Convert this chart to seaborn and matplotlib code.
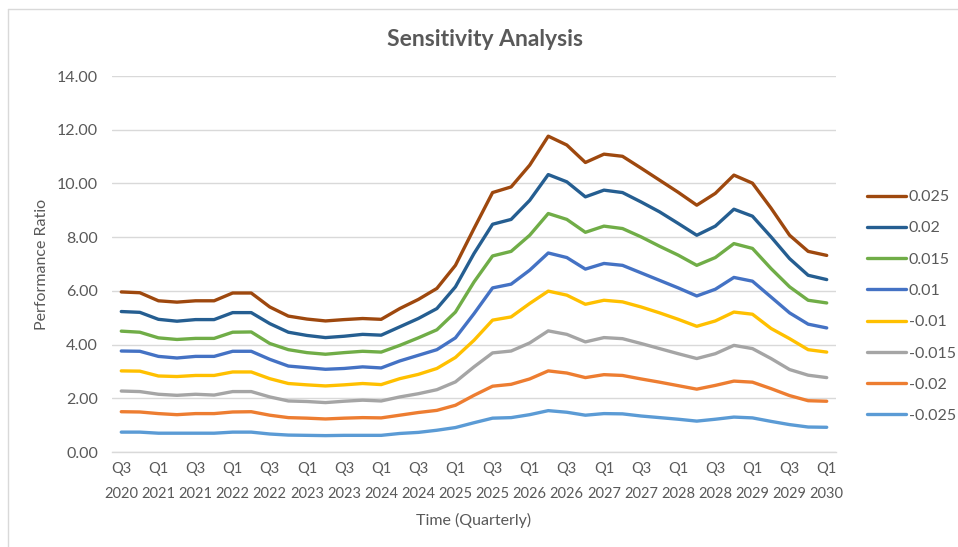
import matplotlib
matplotlib.use("Agg")
import matplotlib.pyplot as plt
from matplotlib.lines import Line2D
import pandas as pd
import seaborn as sns

quarters = [
    "Q3 2020", "Q4 2020", "Q1 2021", "Q2 2021", "Q3 2021", "Q4 2021",
    "Q1 2022", "Q2 2022", "Q3 2022", "Q4 2022", "Q1 2023", "Q2 2023",
    "Q3 2023", "Q4 2023", "Q1 2024", "Q2 2024", "Q3 2024", "Q4 2024",
    "Q1 2025", "Q2 2025", "Q3 2025", "Q4 2025", "Q1 2026", "Q2 2026",
    "Q3 2026", "Q4 2026", "Q1 2027", "Q2 2027", "Q3 2027", "Q4 2027",
    "Q1 2028", "Q2 2028", "Q3 2028", "Q4 2028", "Q1 2029", "Q2 2029",
    "Q3 2029", "Q4 2029", "Q1 2030",
]

s_p025 = [5.96, 5.93, 5.63, 5.58, 5.63, 5.63, 5.92, 5.92, 5.40, 5.06, 4.95, 4.88,
          4.93, 4.97, 4.94, 5.34, 5.68, 6.09, 6.95, 8.32, 9.66, 9.87, 10.68, 11.76,
          11.43, 10.78, 11.09, 11.01, 10.57, 10.12, 9.67, 9.19, 9.63, 10.31, 10.01,
          9.08, 8.07, 7.47, 7.32]
s_p020 = [5.23, 5.20, 4.94, 4.87, 4.93, 4.93, 5.19, 5.19, 4.78, 4.46, 4.34, 4.26,
          4.31, 4.38, 4.35, 4.66, 4.97, 5.34, 6.15, 7.39, 8.48, 8.66, 9.37, 10.33,
          10.06, 9.50, 9.75, 9.66, 9.31, 8.94, 8.51, 8.07, 8.41, 9.04, 8.78,
          8.01, 7.20, 6.58, 6.42]
s_p015 = [4.50, 4.46, 4.25, 4.19, 4.23, 4.23, 4.46, 4.47, 4.04, 3.81, 3.70, 3.64,
          3.70, 3.75, 3.72, 3.97, 4.25, 4.55, 5.21, 6.33, 7.30, 7.47, 8.07, 8.88,
          8.66, 8.18, 8.41, 8.32, 8.01, 7.66, 7.33, 6.95, 7.24, 7.76, 7.58,
          6.83, 6.15, 5.65, 5.55]
s_p010 = [3.76, 3.75, 3.56, 3.50, 3.56, 3.56, 3.75, 3.75, 3.45, 3.20, 3.14, 3.08,
          3.11, 3.17, 3.13, 3.39, 3.60, 3.81, 4.25, 5.15, 6.11, 6.25, 6.77, 7.41,
          7.24, 6.81, 7.02, 6.95, 6.67, 6.39, 6.11, 5.81, 6.06, 6.50, 6.36,
          5.77, 5.18, 4.76, 4.62]
s_m010 = [3.02, 3.01, 2.83, 2.81, 2.85, 2.85, 2.98, 2.98, 2.73, 2.55, 2.50, 2.46,
          2.50, 2.55, 2.51, 2.73, 2.89, 3.11, 3.52, 4.16, 4.91, 5.03, 5.53, 5.99,
          5.84, 5.50, 5.65, 5.59, 5.40, 5.18, 4.94, 4.68, 4.88, 5.21, 5.13,
          4.60, 4.22, 3.81, 3.72]
s_m015 = [2.27, 2.25, 2.15, 2.11, 2.15, 2.12, 2.25, 2.25, 2.05, 1.90, 1.88, 1.84,
          1.89, 1.93, 1.90, 2.05, 2.17, 2.32, 2.61, 3.17, 3.69, 3.76, 4.06, 4.51,
          4.38, 4.10, 4.26, 4.22, 4.04, 3.85, 3.66, 3.48, 3.66, 3.97, 3.85,
          3.48, 3.07, 2.86, 2.77]
s_m020 = [1.50, 1.49, 1.43, 1.39, 1.43, 1.43, 1.49, 1.50, 1.37, 1.28, 1.26, 1.23,
          1.26, 1.28, 1.27, 1.37, 1.47, 1.55, 1.74, 2.11, 2.45, 2.52, 2.72, 3.02,
          2.94, 2.77, 2.88, 2.85, 2.72, 2.60, 2.47, 2.34, 2.48, 2.64, 2.60,
          2.36, 2.10, 1.91, 1.89]
s_m025 = [0.74, 0.74, 0.70, 0.70, 0.70, 0.70, 0.74, 0.74, 0.67, 0.63, 0.62, 0.61,
          0.62, 0.62, 0.62, 0.69, 0.73, 0.81, 0.91, 1.09, 1.26, 1.28, 1.39, 1.54,
          1.48, 1.37, 1.43, 1.42, 1.34, 1.28, 1.22, 1.15, 1.22, 1.30, 1.27,
          1.14, 1.02, 0.93, 0.92]

series_names = ["0.025", "0.02", "0.015", "0.01", "-0.01", "-0.015", "-0.02", "-0.025"]
series_values = [s_p025, s_p020, s_p015, s_p010, s_m010, s_m015, s_m020, s_m025]
series_colors = ["#9E480E", "#255E91", "#70AD47", "#4472C4",
                 "#FFC000", "#A5A5A5", "#ED7D31", "#5B9BD5"]

y_ticks = [0, 2, 4, 6, 8, 10, 12, 14]

rows = []
for name, vals in zip(series_names, series_values):
    for i, v in enumerate(vals):
        rows.append({"pos": i, "quarter": quarters[i], "value": v, "series": name})
df = pd.DataFrame(rows)

sns.set_theme(style="white")
plt.rcParams["font.family"] = ["Lato", "DejaVu Sans"]

text_color = "#595959"
grid_color = "#D9D9D9"
fs = 11.5

fig = plt.figure(figsize=(9.58, 5.47), dpi=100)
fig.patch.set_facecolor("white")
ax = fig.add_axes([112 / 958, 1 - 452 / 547, (836 - 112) / 958, (452 - 76) / 547])

sns.lineplot(data=df, x="pos", y="value", hue="series", hue_order=series_names,
             palette=series_colors, linewidth=2.4, ax=ax, legend=True)

ax.set_xlim(-0.5, len(quarters) - 0.5)
ax.set_ylim(y_ticks[0], y_ticks[-1])
ax.set_yticks(y_ticks)
ax.set_yticklabels([f"{t:.2f}" for t in y_ticks])
tick_pos = list(range(0, len(quarters), 2))
ax.set_xticks(tick_pos)
ax.set_xticklabels([quarters[i].replace(" ", "\n") for i in tick_pos], linespacing=1.95)

ax.grid(axis="y", color=grid_color, linewidth=1.0)
ax.grid(axis="x", visible=False)
for side in ["left", "right", "top"]:
    ax.spines[side].set_visible(False)
ax.spines["bottom"].set_color(grid_color)
ax.spines["bottom"].set_linewidth(1.0)
ax.tick_params(axis="y", length=0, pad=10, labelsize=fs, labelcolor=text_color)
ax.tick_params(axis="x", length=0, pad=7.5, labelsize=10.5, labelcolor=text_color)
ax.set_axisbelow(True)

ax.set_xlabel("Time (Quarterly)", fontsize=fs, color=text_color, labelpad=9)
ax.set_ylabel("Performance Ratio", fontsize=fs, color=text_color, labelpad=6)

fig.text(0.5065, 1 - 40 / 547, "Sensitivity Analysis", ha="center", va="center",
         fontsize=16.5, fontweight="bold", color=text_color)

handles, labels = ax.get_legend_handles_labels()
ax.legend(handles, labels, loc="upper left", bbox_to_anchor=(867 / 958, 1 - 190 / 547),
          bbox_transform=fig.transFigure, frameon=False, borderaxespad=0, borderpad=0,
          handlelength=2.45, handletextpad=0.15, labelspacing=1.07, fontsize=fs,
          labelcolor=text_color)

# outer chart frame (left and top edges)
fig.add_artist(Line2D([8 / 958, 8 / 958], [0, 1 - 9 / 547], transform=fig.transFigure,
                      color=grid_color, linewidth=1.0))
fig.add_artist(Line2D([8 / 958, 1], [1 - 9 / 547, 1 - 9 / 547], transform=fig.transFigure,
                      color=grid_color, linewidth=1.0))

fig.savefig("out.png", dpi=100, facecolor="white")
